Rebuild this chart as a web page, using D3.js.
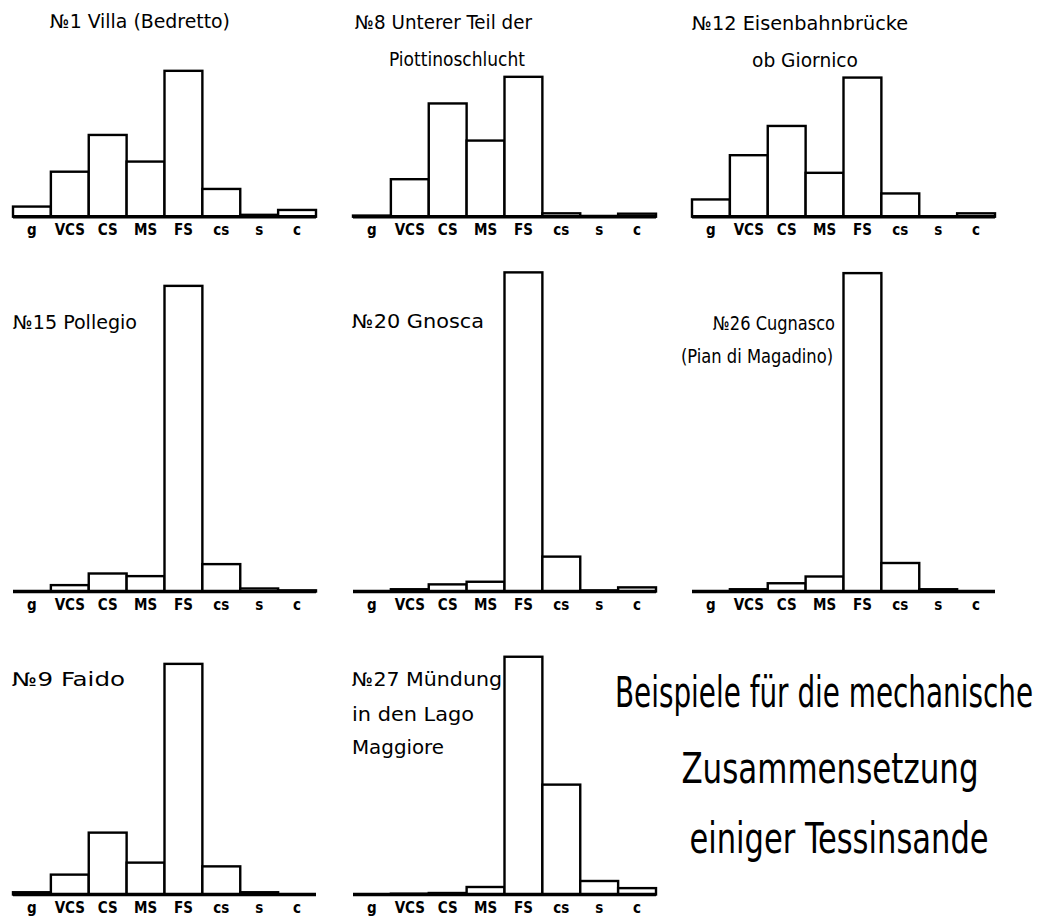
<!DOCTYPE html>
<html lang="de">
<head>
<meta charset="UTF-8">
<title>Beispiele für die mechanische Zusammensetzung einiger Tessinsande</title>
<script src="https://d3js.org/d3.v7.min.js"></script>
<style>
    body { margin: 0; background: #fff; }
    svg { display: block; }
    .title { font-family: "DejaVu Sans Condensed", sans-serif; font-size: 19px; fill: #000; }
    .big { font-family: "DejaVu Sans Condensed", sans-serif; font-size: 43px; fill: #000; }
    .bar { fill: #fff; stroke: #000; stroke-width: 2.4; }
    .axis path { stroke: #000; stroke-width: 3.4; }
    .axis text { font-family: "DejaVu Sans Condensed", sans-serif; font-weight: bold; font-size: 15px; fill: #000; }
</style>
</head>
<body>
<svg width="1040" height="924"></svg>
<script>
// grain size classes
const categories = ["g", "VCS", "CS", "MS", "FS", "cs", "s", "c"];

// sample names (one array of lines per panel)
const titles = [
    ["№1 Villa (Bedretto)"],
    ["№8 Unterer Teil der", "Piottinoschlucht"],
    ["№12 Eisenbahnbrücke", "ob Giornico"],
    ["№15 Pollegio"],
    ["№20 Gnosca"],
    ["№26 Cugnasco", "(Pian di Magadino)"],
    ["№9 Faido"],
    ["№27 Mündung", "in den Lago", "Maggiore"]
];

// percentages
const villa    = [2.7, 12.0, 21.8, 14.7, 38.9, 7.4, 0.5, 1.8];
const piottino = [0.3, 10.0, 30.2, 20.3, 37.3, 0.9, 0.2, 0.8];
const giornico = [4.6, 16.4, 24.2, 11.7, 37.1, 6.2, 0.0, 0.9];
const pollegio = [0.0, 1.7, 4.8, 4.1, 81.5, 7.3, 0.8, 0.3];
const gnosca   = [0.0, 0.6, 1.9, 2.6, 85.1, 9.3, 0.3, 1.1];
const cugnasco = [0.0, 0.6, 2.2, 4.0, 84.9, 7.6, 0.6, 0.0];
const faido    = [0.6, 5.3, 16.5, 8.5, 61.5, 7.5, 0.6, 0.0];
const muendung = [0.0, 0.2, 0.4, 2.0, 63.4, 29.3, 3.6, 1.7];

const series = [villa, piottino, giornico, pollegio, gnosca, cugnasco, faido, muendung];

const heading = ["Beispiele für die mechanische", "Zusammensetzung", "einiger Tessinsande"];

// layout
const colX = [13, 353, 692];
const rowBase = [216.7, 591.5, 894.5];
const panelW = 303;
const pxPerPct = 3.75;

// title line positions [x, y, width] per panel
const titlePos = [
    [[50, 28, 180]],
    [[355, 29, 177], [389, 66, 136]],
    [[692, 29.5, 216], [752, 67, 106]],
    [[13, 329, 124]],
    [[352, 328, 132]],
    [[713, 330, 122], [681, 363, 152]],
    [[12, 686, 113]],
    [[352, 686, 150], [352, 721, 122], [352, 754, 92]]
];
// heading lines [centre x, baseline y, horizontal squeeze]
const headingPos = [[824, 707, 0.72], [830, 783, 0.80], [839, 853, 0.79]];

const svg = d3.select("svg");

series.forEach((vals, i) => {
    const x0 = colX[i % 3];
    const base = rowBase[Math.floor(i / 3)];

    const xScale = d3.scaleBand()
        .domain(categories)
        .range([x0, x0 + panelW])
        .padding(0);

    const yScale = d3.scaleLinear()
        .domain([0, 100])
        .range([base, base - 100 * pxPerPct]);

    const g = svg.append("g");

    g.selectAll(".bar")
        .data(vals.map((v, j) => ({ cat: categories[j], v: v })))
        .join("rect")
        .attr("class", "bar")
        .attr("x", d => xScale(d.cat))
        .attr("y", d => yScale(d.v))
        .attr("width", xScale.bandwidth())
        .attr("height", d => base - yScale(d.v));

    g.append("g")
        .attr("class", "axis")
        .attr("transform", `translate(0, ${base})`)
        .call(d3.axisBottom(xScale).tickSize(0).tickPadding(8))
        .call(a => a.select(".domain").attr("d", `M${x0},0H${x0 + panelW}`));

    titles[i].forEach((line, k) => {
        const p = titlePos[i][k];
        g.append("text")
            .attr("class", "title")
            .attr("x", p[0])
            .attr("y", p[1])
            .attr("textLength", p[2])
            .attr("lengthAdjust", "spacingAndGlyphs")
            .text(line);
    });
});

heading.forEach((line, k) => {
    const p = headingPos[k];
    svg.append("text")
        .attr("class", "big")
        .attr("transform", `translate(${p[0]},${p[1]}) scale(${p[2]},1)`)
        .attr("text-anchor", "middle")
        .text(line);
});
</script>
</body>
</html>
